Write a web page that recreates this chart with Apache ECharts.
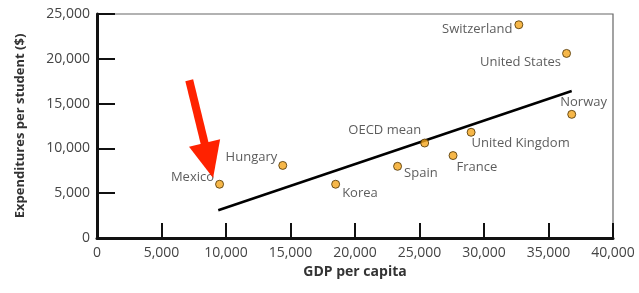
<!DOCTYPE html>
<html>
<head>
<meta charset="utf-8">
<script src="https://cdn.jsdelivr.net/npm/echarts@6/dist/echarts.min.js"></script>
<style>
  html, body { margin: 0; padding: 0; background: #fff; }
  #chart { width: 639px; height: 293px; }
</style>
</head>
<body>
<div id="chart"></div>
<script>
// Countries, GDP per capita (x) and expenditure per student (y)
const countries = ['Switzerland', 'United States', 'Norway', 'United Kingdom', 'OECD mean',
    'France', 'Spain', 'Korea', 'Hungary', 'Mexico'];
const gdpPerCapita = [32700, 36400, 36800, 29000, 25400, 27600, 23300, 18500, 14400, 9500];
const spending = [23800, 20600, 13800, 11800, 10600, 9200, 8000, 6000, 8100, 6000];

// label placement for each country: side and pixel offset
const labelSide = ['left', 'left', 'right', 'right', 'left', 'right', 'right', 'right', 'left', 'left'];
const labelShift = [[0, 5], [1, 9], [-18, -12], [-6, 11], [3, -13], [-3, 12], [0, 7], [0, 9], [1, -8], [1, -7]];

// fitted trend line end points
const trendX = [9400, 36800];
const trendY = [3100, 16400];

// red arrow pointing at Mexico (end = centre of the arrow head)
const arrowFrom = [7150, 17600];
const arrowTo = [8670, 8650];

const xTicks = [0, 5000, 10000, 15000, 20000, 25000, 30000, 35000, 40000];
const yTicks = [0, 5000, 10000, 15000, 20000, 25000];

const chart = echarts.init(document.getElementById('chart'));

const points = countries.map((name, i) => ({
    name: name,
    value: [gdpPerCapita[i], spending[i]],
    label: { position: labelSide[i], offset: labelShift[i] }
}));

const fmt = v => v === 0 ? '0' : v.toLocaleString('en-US');
const font = '"Open Sans", sans-serif';

chart.setOption({
    animation: false,
    grid: {
        left: 97, right: 26, top: 14, bottom: 55,
        show: true,
        borderColor: '#666',
        borderWidth: 1.2
    },
    xAxis: {
        type: 'value',
        min: xTicks[0],
        max: xTicks[xTicks.length - 1],
        interval: 5000,
        name: 'GDP per capita',
        nameLocation: 'middle',
        nameGap: 27,
        nameTextStyle: { fontFamily: font, fontWeight: 'bold', fontSize: 14, color: '#333' },
        axisLine: { lineStyle: { color: '#111', width: 3 } },
        axisTick: { inside: true, length: 15, lineStyle: { color: '#111', width: 2 } },
        axisLabel: { formatter: fmt, fontFamily: font, fontSize: 14, color: '#444', margin: 8 },
        splitLine: { show: false }
    },
    yAxis: {
        type: 'value',
        min: yTicks[0],
        max: yTicks[yTicks.length - 1],
        interval: 5000,
        name: 'Expenditures per student ($)',
        nameLocation: 'middle',
        nameGap: 70,
        nameTextStyle: { fontFamily: font, fontWeight: 'bold', fontSize: 13, color: '#333' },
        axisLine: { lineStyle: { color: '#111', width: 3 } },
        axisTick: { inside: true, length: 18, lineStyle: { color: '#111', width: 2 } },
        axisLabel: { formatter: fmt, fontFamily: font, fontSize: 14, color: '#444', margin: 7 },
        splitLine: { show: false }
    },
    series: [
        {
            type: 'line',
            data: trendX.map((x, i) => [x, trendY[i]]),
            symbol: 'none',
            lineStyle: { color: '#000', width: 2.5 },
            z: 2
        },
        {
            type: 'scatter',
            data: points,
            symbolSize: 8,
            itemStyle: { color: '#f4a51c', borderColor: '#4a3000', borderWidth: 1 },
            label: {
                show: true,
                formatter: '{b}',
                distance: 2,
                fontFamily: font,
                fontSize: 13,
                color: '#333'
            },
            z: 3
        },
        {
            type: 'line',
            data: [],
            markLine: {
                silent: true,
                symbol: ['none', 'triangle'],
                symbolSize: [32, 36],
                label: { show: false },
                lineStyle: { color: '#ff2200', width: 8, type: 'solid', cap: 'butt' },
                data: [[{ coord: arrowFrom }, { coord: arrowTo }]]
            },
            z: 4
        }
    ]
});

window.addEventListener('resize', () => chart.resize());
</script>
</body>
</html>
